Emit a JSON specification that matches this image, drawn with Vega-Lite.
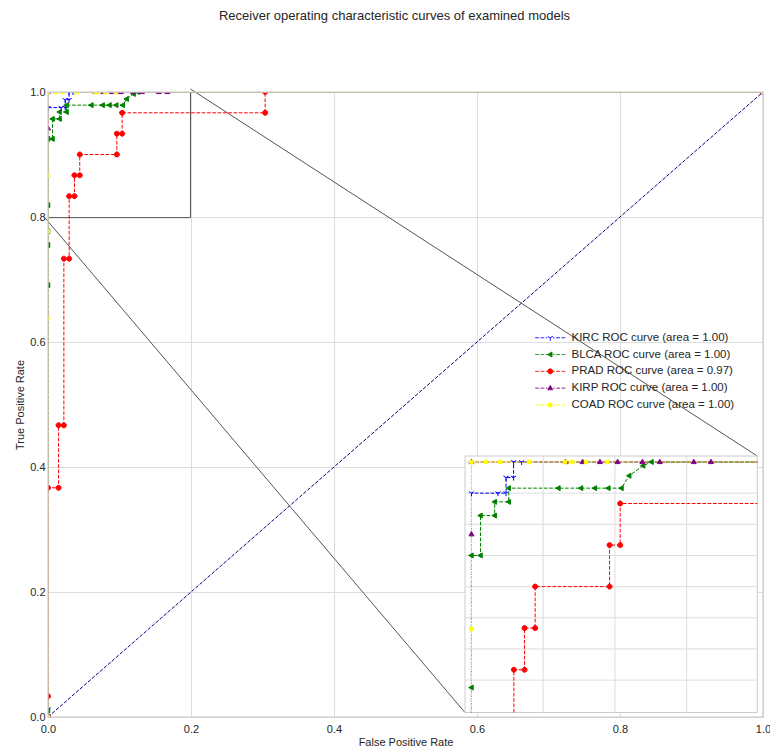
{
  "$schema": "https://vega.github.io/schema/vega-lite/v6.json",
  "width": 715,
  "height": 625,
  "autosize": {"type": "none"},
  "padding": {"left": 48, "top": 92, "right": 7, "bottom": 29},
  "background": "white",
  "title": {
    "text": "Receiver operating characteristic curves of examined models",
    "font": "Liberation Sans",
    "fontSize": 13,
    "fontWeight": "normal",
    "color": "#262626",
    "anchor": "middle",
    "frame": "group",
    "baseline": "alphabetic",
    "offset": 53,
    "dx": -11
  },
  "config": {
    "font": "Liberation Sans",
    "view": {"stroke": "#cccccc", "strokeWidth": 1},
    "axis": {
      "domain": false,
      "ticks": false,
      "grid": true,
      "gridColor": "#dddddd",
      "gridWidth": 1,
      "labelFont": "Liberation Sans",
      "labelFontSize": 11,
      "labelColor": "#262626",
      "labelFlush": false,
      "labelOverlap": false,
      "titleFont": "Liberation Sans",
      "titleFontSize": 11,
      "titleFontWeight": "normal",
      "titleColor": "#262626"
    }
  },
  "datasets": {
    "curves": [
      {"model": "KIRC ROC curve (area = 1.00)", "i": 0, "fpr": 0, "tpr": 0},
      {"model": "KIRC ROC curve (area = 1.00)", "i": 1, "fpr": 0, "tpr": 0.0125},
      {"model": "KIRC ROC curve (area = 1.00)", "i": 2, "fpr": 0, "tpr": 0.975},
      {"model": "KIRC ROC curve (area = 1.00)", "i": 3, "fpr": 0.0185, "tpr": 0.975},
      {"model": "KIRC ROC curve (area = 1.00)", "i": 4, "fpr": 0.0241, "tpr": 0.975},
      {"model": "KIRC ROC curve (area = 1.00)", "i": 5, "fpr": 0.0241, "tpr": 0.9875},
      {"model": "KIRC ROC curve (area = 1.00)", "i": 6, "fpr": 0.0294, "tpr": 0.9875},
      {"model": "KIRC ROC curve (area = 1.00)", "i": 7, "fpr": 0.0294, "tpr": 1},
      {"model": "KIRC ROC curve (area = 1.00)", "i": 8, "fpr": 0.035, "tpr": 1},
      {"model": "KIRC ROC curve (area = 1.00)", "i": 9, "fpr": 1, "tpr": 1},
      {"model": "BLCA ROC curve (area = 1.00)", "i": 0, "fpr": 0, "tpr": 0},
      {"model": "BLCA ROC curve (area = 1.00)", "i": 1, "fpr": 0, "tpr": 0.0106},
      {"model": "BLCA ROC curve (area = 1.00)", "i": 2, "fpr": 0, "tpr": 0.691},
      {"model": "BLCA ROC curve (area = 1.00)", "i": 3, "fpr": 0, "tpr": 0.755},
      {"model": "BLCA ROC curve (area = 1.00)", "i": 4, "fpr": 0, "tpr": 0.777},
      {"model": "BLCA ROC curve (area = 1.00)", "i": 5, "fpr": 0, "tpr": 0.819},
      {"model": "BLCA ROC curve (area = 1.00)", "i": 6, "fpr": 0, "tpr": 0.925},
      {"model": "BLCA ROC curve (area = 1.00)", "i": 7, "fpr": 0.0063, "tpr": 0.925},
      {"model": "BLCA ROC curve (area = 1.00)", "i": 8, "fpr": 0.0063, "tpr": 0.957},
      {"model": "BLCA ROC curve (area = 1.00)", "i": 9, "fpr": 0.0162, "tpr": 0.957},
      {"model": "BLCA ROC curve (area = 1.00)", "i": 10, "fpr": 0.0162, "tpr": 0.968},
      {"model": "BLCA ROC curve (area = 1.00)", "i": 11, "fpr": 0.026, "tpr": 0.968},
      {"model": "BLCA ROC curve (area = 1.00)", "i": 12, "fpr": 0.026, "tpr": 0.979},
      {"model": "BLCA ROC curve (area = 1.00)", "i": 13, "fpr": 0.0606, "tpr": 0.979},
      {"model": "BLCA ROC curve (area = 1.00)", "i": 14, "fpr": 0.0764, "tpr": 0.979},
      {"model": "BLCA ROC curve (area = 1.00)", "i": 15, "fpr": 0.086, "tpr": 0.979},
      {"model": "BLCA ROC curve (area = 1.00)", "i": 16, "fpr": 0.0954, "tpr": 0.979},
      {"model": "BLCA ROC curve (area = 1.00)", "i": 17, "fpr": 0.1046, "tpr": 0.979},
      {"model": "BLCA ROC curve (area = 1.00)", "i": 18, "fpr": 0.11, "tpr": 0.989},
      {"model": "BLCA ROC curve (area = 1.00)", "i": 19, "fpr": 0.1197, "tpr": 0.997},
      {"model": "BLCA ROC curve (area = 1.00)", "i": 20, "fpr": 0.1255, "tpr": 1},
      {"model": "BLCA ROC curve (area = 1.00)", "i": 21, "fpr": 1, "tpr": 1},
      {"model": "PRAD ROC curve (area = 0.97)", "i": 0, "fpr": 0, "tpr": 0},
      {"model": "PRAD ROC curve (area = 0.97)", "i": 1, "fpr": 0, "tpr": 0.0333},
      {"model": "PRAD ROC curve (area = 0.97)", "i": 2, "fpr": 0, "tpr": 0.3667},
      {"model": "PRAD ROC curve (area = 0.97)", "i": 3, "fpr": 0.0148, "tpr": 0.3667},
      {"model": "PRAD ROC curve (area = 0.97)", "i": 4, "fpr": 0.0148, "tpr": 0.4667},
      {"model": "PRAD ROC curve (area = 0.97)", "i": 5, "fpr": 0.0222, "tpr": 0.4667},
      {"model": "PRAD ROC curve (area = 0.97)", "i": 6, "fpr": 0.0222, "tpr": 0.7333},
      {"model": "PRAD ROC curve (area = 0.97)", "i": 7, "fpr": 0.0296, "tpr": 0.7333},
      {"model": "PRAD ROC curve (area = 0.97)", "i": 8, "fpr": 0.0296, "tpr": 0.8333},
      {"model": "PRAD ROC curve (area = 0.97)", "i": 9, "fpr": 0.037, "tpr": 0.8333},
      {"model": "PRAD ROC curve (area = 0.97)", "i": 10, "fpr": 0.037, "tpr": 0.8667},
      {"model": "PRAD ROC curve (area = 0.97)", "i": 11, "fpr": 0.0444, "tpr": 0.8667},
      {"model": "PRAD ROC curve (area = 0.97)", "i": 12, "fpr": 0.0444, "tpr": 0.9},
      {"model": "PRAD ROC curve (area = 0.97)", "i": 13, "fpr": 0.0963, "tpr": 0.9},
      {"model": "PRAD ROC curve (area = 0.97)", "i": 14, "fpr": 0.0963, "tpr": 0.9333},
      {"model": "PRAD ROC curve (area = 0.97)", "i": 15, "fpr": 0.1037, "tpr": 0.9333},
      {"model": "PRAD ROC curve (area = 0.97)", "i": 16, "fpr": 0.1037, "tpr": 0.9667},
      {"model": "PRAD ROC curve (area = 0.97)", "i": 17, "fpr": 0.3037, "tpr": 0.9667},
      {"model": "PRAD ROC curve (area = 0.97)", "i": 18, "fpr": 0.3037, "tpr": 1},
      {"model": "PRAD ROC curve (area = 0.97)", "i": 19, "fpr": 1, "tpr": 1},
      {"model": "KIRP ROC curve (area = 1.00)", "i": 0, "fpr": 0, "tpr": 0},
      {"model": "KIRP ROC curve (area = 1.00)", "i": 1, "fpr": 0, "tpr": 0.942},
      {"model": "KIRP ROC curve (area = 1.00)", "i": 2, "fpr": 0, "tpr": 1},
      {"model": "KIRP ROC curve (area = 1.00)", "i": 3, "fpr": 0.0657, "tpr": 1},
      {"model": "KIRP ROC curve (area = 1.00)", "i": 4, "fpr": 0.0775, "tpr": 1},
      {"model": "KIRP ROC curve (area = 1.00)", "i": 5, "fpr": 0.0896, "tpr": 1},
      {"model": "KIRP ROC curve (area = 1.00)", "i": 6, "fpr": 0.1019, "tpr": 1},
      {"model": "KIRP ROC curve (area = 1.00)", "i": 7, "fpr": 0.1192, "tpr": 1},
      {"model": "KIRP ROC curve (area = 1.00)", "i": 8, "fpr": 0.1313, "tpr": 1},
      {"model": "KIRP ROC curve (area = 1.00)", "i": 9, "fpr": 0.155, "tpr": 1},
      {"model": "KIRP ROC curve (area = 1.00)", "i": 10, "fpr": 0.167, "tpr": 1},
      {"model": "KIRP ROC curve (area = 1.00)", "i": 11, "fpr": 1, "tpr": 1},
      {"model": "COAD ROC curve (area = 1.00)", "i": 0, "fpr": 0, "tpr": 0},
      {"model": "COAD ROC curve (area = 1.00)", "i": 1, "fpr": 0, "tpr": 0.638},
      {"model": "COAD ROC curve (area = 1.00)", "i": 2, "fpr": 0, "tpr": 0.777},
      {"model": "COAD ROC curve (area = 1.00)", "i": 3, "fpr": 0, "tpr": 0.866},
      {"model": "COAD ROC curve (area = 1.00)", "i": 4, "fpr": 0, "tpr": 1},
      {"model": "COAD ROC curve (area = 1.00)", "i": 5, "fpr": 0.0102, "tpr": 1},
      {"model": "COAD ROC curve (area = 1.00)", "i": 6, "fpr": 0.0201, "tpr": 1},
      {"model": "COAD ROC curve (area = 1.00)", "i": 7, "fpr": 0.0403, "tpr": 1},
      {"model": "COAD ROC curve (area = 1.00)", "i": 8, "fpr": 0.0653, "tpr": 1},
      {"model": "COAD ROC curve (area = 1.00)", "i": 9, "fpr": 0.0703, "tpr": 1},
      {"model": "COAD ROC curve (area = 1.00)", "i": 10, "fpr": 0.0799, "tpr": 1},
      {"model": "COAD ROC curve (area = 1.00)", "i": 11, "fpr": 0.0947, "tpr": 1},
      {"model": "COAD ROC curve (area = 1.00)", "i": 12, "fpr": 1, "tpr": 1}
    ],
    "inset_lines": [
      {"model": "KIRC ROC curve (area = 1.00)", "i": 0, "fpr": 0, "tpr": 0.799},
      {"model": "KIRC ROC curve (area = 1.00)", "i": 1, "fpr": 0, "tpr": 0.975},
      {"model": "KIRC ROC curve (area = 1.00)", "i": 2, "fpr": 0.0241, "tpr": 0.975},
      {"model": "KIRC ROC curve (area = 1.00)", "i": 3, "fpr": 0.0241, "tpr": 0.9875},
      {"model": "KIRC ROC curve (area = 1.00)", "i": 4, "fpr": 0.0294, "tpr": 0.9875},
      {"model": "KIRC ROC curve (area = 1.00)", "i": 5, "fpr": 0.0294, "tpr": 1},
      {"model": "KIRC ROC curve (area = 1.00)", "i": 6, "fpr": 0.1993, "tpr": 1},
      {"model": "BLCA ROC curve (area = 1.00)", "i": 0, "fpr": 0, "tpr": 0.799},
      {"model": "BLCA ROC curve (area = 1.00)", "i": 1, "fpr": 0, "tpr": 0.925},
      {"model": "BLCA ROC curve (area = 1.00)", "i": 2, "fpr": 0.0063, "tpr": 0.925},
      {"model": "BLCA ROC curve (area = 1.00)", "i": 3, "fpr": 0.0063, "tpr": 0.957},
      {"model": "BLCA ROC curve (area = 1.00)", "i": 4, "fpr": 0.0162, "tpr": 0.957},
      {"model": "BLCA ROC curve (area = 1.00)", "i": 5, "fpr": 0.0162, "tpr": 0.968},
      {"model": "BLCA ROC curve (area = 1.00)", "i": 6, "fpr": 0.026, "tpr": 0.968},
      {"model": "BLCA ROC curve (area = 1.00)", "i": 7, "fpr": 0.026, "tpr": 0.979},
      {"model": "BLCA ROC curve (area = 1.00)", "i": 8, "fpr": 0.1046, "tpr": 0.979},
      {"model": "BLCA ROC curve (area = 1.00)", "i": 9, "fpr": 0.11, "tpr": 0.989},
      {"model": "BLCA ROC curve (area = 1.00)", "i": 10, "fpr": 0.1197, "tpr": 0.997},
      {"model": "BLCA ROC curve (area = 1.00)", "i": 11, "fpr": 0.1255, "tpr": 1},
      {"model": "BLCA ROC curve (area = 1.00)", "i": 12, "fpr": 0.1993, "tpr": 1},
      {"model": "PRAD ROC curve (area = 0.97)", "i": 0, "fpr": 0.0296, "tpr": 0.799},
      {"model": "PRAD ROC curve (area = 0.97)", "i": 1, "fpr": 0.0296, "tpr": 0.8333},
      {"model": "PRAD ROC curve (area = 0.97)", "i": 2, "fpr": 0.037, "tpr": 0.8333},
      {"model": "PRAD ROC curve (area = 0.97)", "i": 3, "fpr": 0.037, "tpr": 0.8667},
      {"model": "PRAD ROC curve (area = 0.97)", "i": 4, "fpr": 0.0444, "tpr": 0.8667},
      {"model": "PRAD ROC curve (area = 0.97)", "i": 5, "fpr": 0.0444, "tpr": 0.9},
      {"model": "PRAD ROC curve (area = 0.97)", "i": 6, "fpr": 0.0963, "tpr": 0.9},
      {"model": "PRAD ROC curve (area = 0.97)", "i": 7, "fpr": 0.0963, "tpr": 0.9333},
      {"model": "PRAD ROC curve (area = 0.97)", "i": 8, "fpr": 0.1037, "tpr": 0.9333},
      {"model": "PRAD ROC curve (area = 0.97)", "i": 9, "fpr": 0.1037, "tpr": 0.9667},
      {"model": "PRAD ROC curve (area = 0.97)", "i": 10, "fpr": 0.1993, "tpr": 0.9667},
      {"model": "KIRP ROC curve (area = 1.00)", "i": 0, "fpr": 0, "tpr": 0.799},
      {"model": "KIRP ROC curve (area = 1.00)", "i": 1, "fpr": 0, "tpr": 1},
      {"model": "KIRP ROC curve (area = 1.00)", "i": 2, "fpr": 0.1993, "tpr": 1},
      {"model": "COAD ROC curve (area = 1.00)", "i": 0, "fpr": 0, "tpr": 0.799},
      {"model": "COAD ROC curve (area = 1.00)", "i": 1, "fpr": 0, "tpr": 1},
      {"model": "COAD ROC curve (area = 1.00)", "i": 2, "fpr": 0.1993, "tpr": 1}
    ],
    "guides": [
      {"x1": 0, "y1": 0.799, "x2": 0.1993, "y2": 0.799},
      {"x1": 0.1993, "y1": 0.799, "x2": 0.1993, "y2": 1.0},
      {"x1": 0.1993, "y1": 1.0048, "x2": 0.992, "y2": 0.4176},
      {"x1": -0.0045, "y1": 0.799, "x2": 0.5832, "y2": 0.0072}
    ],
    "inset_grid_x": [{"v": 0.05}, {"v": 0.1}, {"v": 0.15}],
    "inset_grid_y": [{"v": 0.825}, {"v": 0.85}, {"v": 0.875}, {"v": 0.9}, {"v": 0.925}, {"v": 0.95}, {"v": 0.975}, {"v": 1.0}]
  },
  "layer": [
    {
      "layer": [
        {
          "data": {"values": [{}]},
          "mark": {"type": "rule", "color": "navy", "strokeWidth": 1, "strokeDash": [3.7, 1.6]},
          "encoding": {
            "x": {"datum": 0, "type": "quantitative", "scale": {"domain": [0, 1], "nice": false, "zero": false},
                  "axis": {"values": [0, 0.2, 0.4, 0.6, 0.8, 1], "format": ".1f", "title": "False Positive Rate", "labelPadding": 6, "titlePadding": 2}},
            "y": {"datum": 0, "type": "quantitative", "scale": {"domain": [0, 1], "nice": false, "zero": false},
                  "axis": {"values": [0, 0.2, 0.4, 0.6, 0.8, 1], "format": ".1f", "title": "True Positive Rate", "labelPadding": 3, "titlePadding": 4}},
            "x2": {"datum": 1},
            "y2": {"datum": 1}
          }
        },
        {
          "data": {"name": "guides"},
          "mark": {"type": "rule", "color": "#555555", "strokeWidth": 1, "clip": false},
          "encoding": {
            "x": {"field": "x1", "type": "quantitative"},
            "y": {"field": "y1", "type": "quantitative"},
            "x2": {"field": "x2"},
            "y2": {"field": "y2"}
          }
        },
        {
          "data": {"name": "curves"},
          "mark": {"type": "line", "strokeWidth": 1, "strokeDash": [3.7, 1.6], "clip": true},
          "encoding": {
            "x": {"field": "fpr", "type": "quantitative"},
            "y": {"field": "tpr", "type": "quantitative"},
            "order": {"field": "i", "type": "quantitative"},
            "stroke": {"field": "model", "type": "nominal",
              "scale": {"domain": ["KIRC ROC curve (area = 1.00)", "BLCA ROC curve (area = 1.00)", "PRAD ROC curve (area = 0.97)", "KIRP ROC curve (area = 1.00)", "COAD ROC curve (area = 1.00)"],
                        "range": ["blue", "green", "red", "purple", "yellow"]},
              "legend": {
                "title": null,
                "orient": "none",
                "legendX": 496.5,
                "legendY": 240,
                "padding": 0,
                "symbolSize": 100,
                "symbolStrokeWidth": 1,
                "labelFont": "Liberation Sans",
                "labelFontSize": 11.5,
                "labelColor": "#262626",
                "labelOffset": 15.5,
                "labelLimit": 400,
                "rowPadding": 3.8,
                "encode": {
                  "symbols": {
                    "update": {
                      "shape": {"signal": "'M-3,0H-2.26M-1.94,0H-1.2M-0.88,0H-0.6M0.6,0H0.88M1.2,0H1.94M2.26,0H3' + scale('shape', datum.value)"},
                      "strokeDash": {"value": [1, 0]},
                      "opacity": {"value": 1},
                      "strokeWidth": {"value": 1}
                    }
                  }
                }
              }
            }
          }
        },
        {
          "data": {"name": "curves"},
          "mark": {"type": "point", "filled": true, "size": 100, "strokeWidth": 1, "opacity": 1, "clip": true},
          "encoding": {
            "x": {"field": "fpr", "type": "quantitative"},
            "y": {"field": "tpr", "type": "quantitative"},
            "stroke": {"field": "model", "type": "nominal", "legend": {"title": null}},
            "fill": {"field": "model", "type": "nominal", "legend": {"title": null},
              "scale": {"domain": ["KIRC ROC curve (area = 1.00)", "BLCA ROC curve (area = 1.00)", "PRAD ROC curve (area = 0.97)", "KIRP ROC curve (area = 1.00)", "COAD ROC curve (area = 1.00)"],
                        "range": ["blue", "green", "red", "purple", "yellow"]}},
            "shape": {"field": "model", "type": "nominal", "legend": null,
              "scale": {"domain": ["COAD ROC curve (area = 1.00)", "KIRP ROC curve (area = 1.00)", "PRAD ROC curve (area = 0.97)", "BLCA ROC curve (area = 1.00)", "KIRC ROC curve (area = 1.00)"],
                        "range": [
                          "M-0.35,-0.35L0.35,-0.35L0.35,0.35L-0.35,0.35Z",
                          "M0,-0.55L0.5,0.32L-0.5,0.32Z",
                          "M-0.5,0A0.5,0.5,0,1,0,0.5,0A0.5,0.5,0,1,0,-0.5,0Z",
                          "M-0.55,0L0.35,-0.5L0.35,0.5Z",
                          "M0,0L0,0.6M0,0L-0.52,-0.3M0,0L0.52,-0.3"
                        ]}}
          }
        },
        {
          "data": {"values": [{}]},
          "mark": {"type": "rect", "filled": false, "stroke": "#cccccc", "strokeWidth": 1.25},
          "encoding": {
            "x": {"datum": 0, "type": "quantitative"},
            "x2": {"datum": 1},
            "y": {"datum": 0, "type": "quantitative"},
            "y2": {"datum": 1}
          }
        }
      ]
    },
    {
      "layer": [
        {
          "data": {"values": [{}]},
          "mark": {"type": "rect", "fill": "white", "stroke": "#cccccc", "strokeWidth": 1},
          "encoding": {
            "x": {"datum": -0.0045, "type": "quantitative", "axis": null,
                  "scale": {"domain": [-0.0045, 0.1993], "range": [417, 709.3], "nice": false, "zero": false}},
            "x2": {"datum": 0.1993},
            "y": {"datum": 0.799, "type": "quantitative", "axis": null,
                  "scale": {"domain": [0.799, 1.0048], "range": [620.5, 364], "nice": false, "zero": false}},
            "y2": {"datum": 1.0048}
          }
        },
        {
          "data": {"name": "inset_grid_x"},
          "mark": {"type": "rule", "color": "#dddddd", "strokeWidth": 1},
          "encoding": {
            "x": {"field": "v", "type": "quantitative"},
            "y": {"datum": 0.799, "type": "quantitative"},
            "y2": {"datum": 1.0048}
          }
        },
        {
          "data": {"name": "inset_grid_y"},
          "mark": {"type": "rule", "color": "#dddddd", "strokeWidth": 1},
          "encoding": {
            "y": {"field": "v", "type": "quantitative"},
            "x": {"datum": -0.0045, "type": "quantitative"},
            "x2": {"datum": 0.1993}
          }
        },
        {
          "data": {"name": "inset_lines"},
          "mark": {"type": "line", "strokeWidth": 1, "strokeDash": [3.7, 1.6]},
          "encoding": {
            "x": {"field": "fpr", "type": "quantitative"},
            "y": {"field": "tpr", "type": "quantitative"},
            "order": {"field": "i", "type": "quantitative"},
            "stroke": {"field": "model", "type": "nominal", "legend": {"title": null}}
          }
        },
        {
          "data": {"name": "curves"},
          "transform": [{"filter": "datum.fpr <= 0.1993 && datum.tpr >= 0.799"}],
          "mark": {"type": "point", "filled": true, "size": 100, "strokeWidth": 1, "opacity": 1},
          "encoding": {
            "x": {"field": "fpr", "type": "quantitative"},
            "y": {"field": "tpr", "type": "quantitative"},
            "stroke": {"field": "model", "type": "nominal", "legend": {"title": null}},
            "fill": {"field": "model", "type": "nominal", "legend": {"title": null}},
            "shape": {"field": "model", "type": "nominal", "legend": null}
          }
        }
      ]
    }
  ],
  "resolve": {"scale": {"x": "independent", "y": "independent"}}
}
